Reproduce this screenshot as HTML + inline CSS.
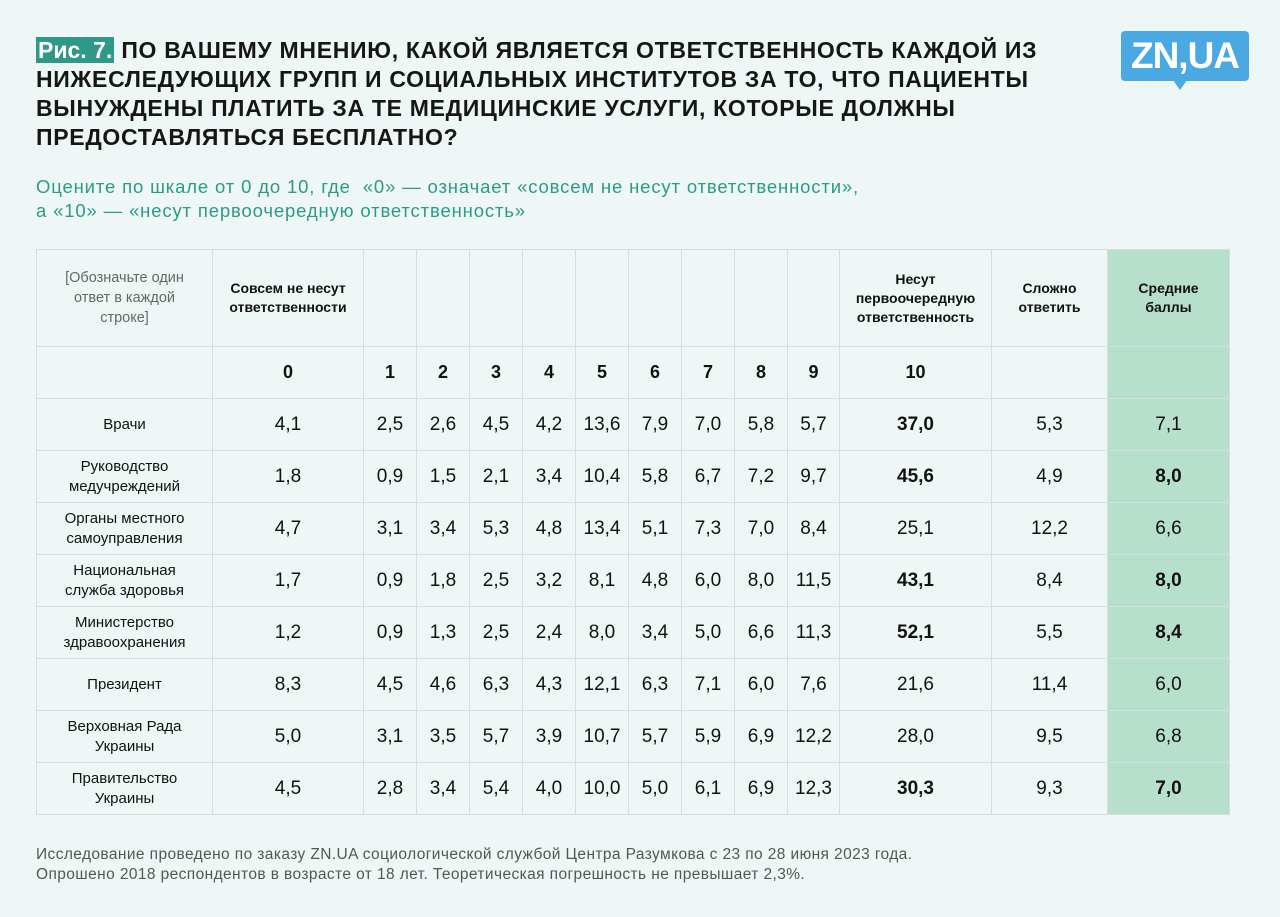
<!DOCTYPE html>
<html><head><meta charset="utf-8"><style>
body{margin:0;width:1280px;height:917px;background:#eff7f6;font-family:"Liberation Sans",sans-serif;position:relative;overflow:hidden;color:#111}
.title{position:absolute;left:36px;top:36px;font-size:23px;font-weight:bold;line-height:29px;letter-spacing:0.7px;width:1060px;color:#161616}
.fig{background:#2e9988;color:#fff;padding:0 2px;letter-spacing:0}
.sub{position:absolute;left:36px;top:175px;font-size:18.5px;line-height:24px;letter-spacing:0.85px;color:#2b9b87}
.logo{position:absolute;left:1121px;top:31px;width:128px;height:50px;background:#4aa8e3;border-radius:4px;color:#fff;font-weight:bold;font-size:37px;line-height:50px;text-align:center;letter-spacing:-1px}
.logo:after{content:"";position:absolute;left:52px;bottom:-9px;border-left:7px solid transparent;border-right:7px solid transparent;border-top:10px solid #4aa8e3}
table{position:absolute;left:36px;top:249px;border-collapse:collapse;table-layout:fixed}
td{border:1.5px solid #d6dede;text-align:center;padding:0;font-size:19px}
.hd td{height:96px;font-size:14px;font-weight:bold;line-height:19px}
.nr td{height:51px;font-size:18px;font-weight:bold}
.dr td{height:51px}
td.lab{font-size:15px;line-height:20px}
td.avg{background:#b6e0cb}
.b{font-weight:bold}
.foot{position:absolute;left:36px;top:845px;font-size:15.5px;line-height:20px;color:#555;letter-spacing:0.4px}
</style></head><body>
<div class="title"><span class="fig">Рис. 7.</span> ПО ВАШЕМУ МНЕНИЮ, КАКОЙ ЯВЛЯЕТСЯ ОТВЕТСТВЕННОСТЬ КАЖДОЙ ИЗ НИЖЕСЛЕДУЮЩИХ ГРУПП И СОЦИАЛЬНЫХ ИНСТИТУТОВ ЗА ТО, ЧТО ПАЦИЕНТЫ ВЫНУЖДЕНЫ ПЛАТИТЬ ЗА ТЕ МЕДИЦИНСКИЕ УСЛУГИ, КОТОРЫЕ ДОЛЖНЫ ПРЕДОСТАВЛЯТЬСЯ БЕСПЛАТНО?</div>
<div class="logo">ZN,UA</div>
<div class="sub">Оцените по шкале от 0 до 10, где&nbsp; «0» — означает «совсем не несут ответственности»,<br>а «10» — «несут первоочередную ответственность»</div>
<table id="t">
<colgroup><col style="width:176px"><col style="width:151px"><col style="width:53px"><col style="width:53px"><col style="width:53px"><col style="width:53px"><col style="width:53px"><col style="width:53px"><col style="width:53px"><col style="width:53px"><col style="width:52px"><col style="width:152px"><col style="width:116px"><col style="width:122px"></colgroup>
<tr class="hd"><td class="lab" style="font-weight:normal;color:#666;font-size:14.5px">[Обозначьте один<br>ответ в каждой<br>строке]</td><td>Совсем не несут<br>ответственности</td><td></td><td></td><td></td><td></td><td></td><td></td><td></td><td></td><td></td><td>Несут<br>первоочередную<br>ответственность</td><td>Сложно<br>ответить</td><td class="avg">Средние<br>баллы</td></tr>
</table>
<div class="foot">Исследование проведено по заказу ZN.UA социологической службой Центра Разумкова с 23 по 28 июня 2023 года.<br>Опрошено 2018 респондентов в возрасте от 18 лет. Теоретическая погрешность не превышает 2,3%.</div>
<script>
const scale=["0","1","2","3","4","5","6","7","8","9","10"];
const rows=["Врачи","Руководство<br>медучреждений","Органы местного<br>самоуправления","Национальная<br>служба здоровья","Министерство<br>здравоохранения","Президент","Верховная Рада<br>Украины","Правительство<br>Украины"];
const values=[
[4.1,2.5,2.6,4.5,4.2,13.6,7.9,7.0,5.8,5.7,37.0],
[1.8,0.9,1.5,2.1,3.4,10.4,5.8,6.7,7.2,9.7,45.6],
[4.7,3.1,3.4,5.3,4.8,13.4,5.1,7.3,7.0,8.4,25.1],
[1.7,0.9,1.8,2.5,3.2,8.1,4.8,6.0,8.0,11.5,43.1],
[1.2,0.9,1.3,2.5,2.4,8.0,3.4,5.0,6.6,11.3,52.1],
[8.3,4.5,4.6,6.3,4.3,12.1,6.3,7.1,6.0,7.6,21.6],
[5.0,3.1,3.5,5.7,3.9,10.7,5.7,5.9,6.9,12.2,28.0],
[4.5,2.8,3.4,5.4,4.0,10.0,5.0,6.1,6.9,12.3,30.3]];
const hard=[5.3,4.9,12.2,8.4,5.5,11.4,9.5,9.3];
const avg=[7.1,8.0,6.6,8.0,8.4,6.0,6.8,7.0];
const boldTop=[true,true,false,true,true,false,false,true];
const boldAvg=[false,true,false,true,true,false,false,true];
const f=v=>v.toFixed(1).replace(".",",");
const t=document.getElementById("t");
let nr=t.insertRow();nr.className="nr";


nr.insertCell();
scale.forEach(s=>{const c=nr.insertCell();c.textContent=s;

});
nr.insertCell();const ac=nr.insertCell();ac.className="avg";
rows.forEach((r,i)=>{const tr=t.insertRow();tr.className="dr";


const l=tr.insertCell();l.className="lab";l.innerHTML=r;


values[i].forEach((v,j)=>{const c=tr.insertCell();c.textContent=f(v);if(j==10&&boldTop[i])c.className="b";

});
const h=tr.insertCell();h.textContent=f(hard[i]);


const a=tr.insertCell();a.textContent=f(avg[i]);a.className="avg"+(boldAvg[i]?" b":"");

});
</script>
</body></html>
